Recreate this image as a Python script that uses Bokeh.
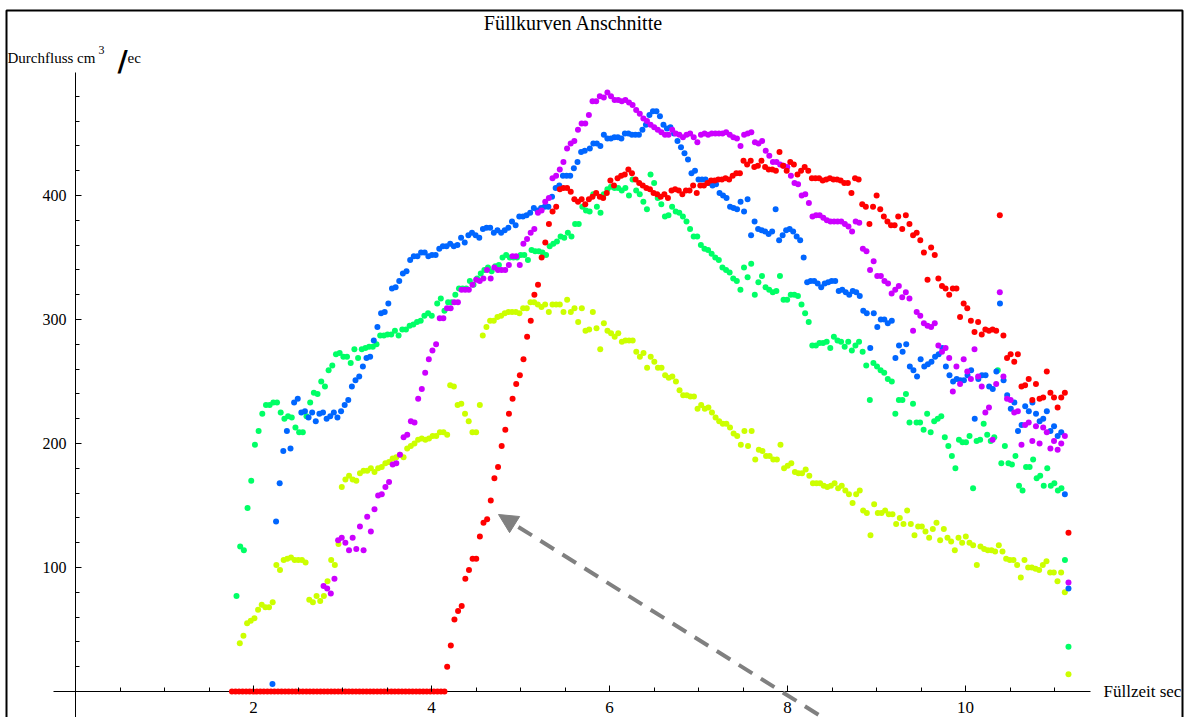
import numpy as np
from bokeh.plotting import figure
from bokeh.models import (ColumnDataSource, LinearAxis, FixedTicker, Range1d, Label,
                          Arrow, NormalHead, BoxAnnotation)
from bokeh.embed import file_html
from bokeh.resources import INLINE

# ---------------- data ----------------
# each series: list of time segments (start, end) in sec, and the flow values sampled in them
red_segments = [(1.758, 4.146), (4.176, 5.891), (5.929, 9.244), (9.289, 11.157)]
red_values = [
    [0, 0, 0, 0, 0, 0, 0, 0, 0, 0, 0, 0, 0, 0, 0, 0, 0, 0, 0, 0,
     0, 0, 0, 0, 0, 0, 0, 0, 0, 0, 0, 0, 0, 0, 0, 0, 0, 0, 0, 0,
     0, 0, 0, 0, 0, 0, 0, 0, 0, 0, 0, 0, 0, 0, 0, 0, 0, 0, 0, 0, 0],
    [20, 37, 58, 65, 69, 91, 98, 107, 107, 125, 136, 139, 154, 172, 181, 198, 211, 224, 236, 248,
     255, 268, 286, 299, 320, 328, 350, 362, 377, 387, 391, 405, 406, 406, 403, 397, 395, 397, 393, 397,
     399, 402, 399],
    [398, 402, 412, 408, 414, 416, 417, 421, 418, 413, 410, 408, 406, 405, 402, 401, 399, 401, 398, 404,
     405, 404, 401, 404, 404, 408, 402, 408, 408, 410, 412, 412, 413, 413, 414, 413, 416, 418, 418, 428,
     425, 428, 423, 424, 428, 423, 421, 421, 420, 435, 424, 420, 427, 425, 417, 420, 423, 420, 414, 414,
     414, 412, 413, 414, 413, 413, 412, 410, 410, 402, 414, 413, 393, 391, 377, 391, 400, 389, 383, 379,
     376, 376, 383],
    [373, 384, 377, 368, 370, 364, 354, 332, 358, 352, 333, 327, 325, 320, 325, 325, 302, 313, 309, 299,
     290, 298, 288, 292, 291, 292, 291, 384, 287, 269, 272, 266, 272, 246, 247, 252, 235, 248, 236, 237,
     258, 241, 237, 229, 237, 241, 128],
]

green_segments = [(1.809, 4.003), (4.064, 5.899), (5.936, 9.127), (9.172, 11.157)]
green_values = [
    [77, 117, 114, 148, 170, 199, 210, 224, 231, 231, 233, 233, 225, 220, 222, 221, 213, 209, 209, 222,
     233, 241, 240, 250, 246, 259, 263, 272, 273, 270, 270, 265, 276, 269, 276, 277, 278, 278, 280, 287,
     287, 288, 288, 291, 287, 292, 292, 295, 296, 298, 299, 303, 305, 303],
    [313, 317, 307, 314, 314, 320, 325, 325, 325, 331, 328, 333, 337, 340, 342, 339, 343, 344, 350, 352,
     350, 350, 350, 352, 352, 348, 356, 355, 355, 354, 352, 359, 361, 363, 367, 366, 370, 367, 377, 377,
     391, 388, 387, 401, 391, 386],
    [401, 405, 407, 406, 406, 404, 406, 400, 413, 404, 401, 395, 389, 417, 410, 398, 393, 383, 384, 391,
     387, 386, 383, 379, 373, 367, 367, 360, 357, 356, 353, 350, 348, 342, 340, 338, 333, 331, 324, 342,
     334, 345, 320, 330, 335, 326, 324, 322, 323, 335, 316, 316, 320, 320, 319, 312, 305, 298, 279, 279,
     281, 281, 282, 277, 286, 283, 282, 278, 282, 275, 279, 282, 274, 263, 235, 265, 262, 259, 257, 252],
    [250, 224, 235, 235, 240, 217, 232, 217, 217, 211, 224, 209, 218, 220, 222, 205, 198, 190, 180, 203,
     201, 201, 206, 164, 202, 203, 216, 207, 202, 205, 259, 184, 198, 184, 183, 190, 166, 162, 181, 181,
     187, 172, 174, 166, 180, 166, 168, 162, 164, 106, 36],
]

blue_segments = [(2.213, 3.146), (3.188, 5.722), (5.779, 9.127), (9.172, 11.157)]
blue_values = [
    [6, 137, 168, 194, 210, 196, 233, 236, 225, 226, 221, 225, 218, 224, 225, 220, 222, 225, 221, 226,
     231, 235, 246, 251],
    [254, 262, 269, 270, 283, 294, 305, 306, 313, 325, 326, 331, 337, 339, 348, 351, 351, 354, 354, 351,
     352, 352, 357, 359, 359, 361, 359, 360, 366, 362, 368, 370, 368, 366, 373, 374, 374, 370, 372, 370,
     372, 374, 379, 376, 383, 383, 384, 386, 390, 388, 390, 391, 391, 399, 406, 408, 416, 416, 416, 422,
     427, 435, 436],
    [438, 442, 442, 440, 449, 446, 446, 447, 447, 446, 450, 450, 449, 449, 449, 453, 457, 465, 468, 468,
     464, 457, 454, 455, 450, 444, 439, 434, 429, 418, 420, 413, 413, 413, 410, 408, 409, 402, 400, 398,
     391, 390, 389, 395, 387, 397, 368, 379, 373, 372, 371, 369, 371, 389, 364, 368, 372, 373, 371, 367,
     364, 350, 330, 331, 331, 329, 326, 329, 330, 331, 331, 323, 324, 322, 320, 323, 322, 319, 307, 305,
     277, 305, 294, 300, 300, 297],
    [299, 269, 279, 274, 280, 262, 259, 254, 268, 262, 264, 266, 270, 272, 277, 262, 255, 250, 252, 251,
     251, 255, 259, 220, 252, 255, 255, 246, 244, 258, 313, 251, 239, 228, 233, 210, 215, 230, 226, 233,
     224, 218, 220, 226, 210, 214, 206, 209, 159, 83],
]

purple_segments = [(2.787, 3.891), (3.929, 5.891), (5.936, 9.251), (9.289, 11.157)]
purple_values = [
    [85, 83, 79, 91, 122, 124, 120, 114, 124, 115, 133, 114, 141, 129, 147, 158, 159, 165, 169, 183,
     184, 191, 205, 207, 218, 217, 236, 244],
    [257, 268, 275, 280, 301, 301, 309, 309, 314, 314, 324, 324, 324, 328, 332, 331, 333, 340, 333, 342,
     340, 340, 340, 344, 351, 351, 344, 361, 365, 370, 373, 386, 388, 395, 398, 414, 416, 421, 427, 438,
     442, 444, 453, 458, 458, 465, 476, 476, 480],
    [479, 483, 480, 477, 477, 476, 477, 475, 473, 469, 466, 462, 460, 457, 455, 453, 451, 449, 449, 453,
     450, 449, 447, 449, 450, 447, 443, 449, 450, 449, 450, 450, 450, 450, 451, 449, 447, 446, 440, 449,
     450, 451, 443, 442, 444, 436, 432, 427, 427, 425, 424, 423, 416, 410, 409, 400, 401, 394, 383, 384,
     384, 382, 380, 379, 379, 379, 379, 377, 375, 371, 379, 378, 357, 355, 340, 347, 335, 335, 331, 329,
     321, 324, 327],
    [318, 322, 317, 291, 306, 303, 297, 295, 294, 297, 279, 274, 277, 269, 242, 262, 248, 268, 258, 252,
     276, 254, 246, 225, 229, 203, 248, 322, 254, 236, 235, 225, 226, 199, 215, 217, 202, 214, 200, 213,
     209, 196, 202, 195, 200, 206, 88],
]

yellow_segments = [(1.846, 2.955), (2.992, 4.176), (4.210, 4.543), (4.576, 5.854), (5.896, 8.812), (8.850, 11.157)]
yellow_values = [
    [39, 45, 55, 57, 59, 66, 70, 68, 68, 72, 102, 98, 106, 107, 108, 106, 106, 106, 104, 74,
     72, 77, 73, 77, 89, 106, 102, 119],
    [165, 171, 174, 171, 170, 176, 178, 178, 180, 177, 180, 181, 184, 185, 188, 189, 191, 189, 196, 198,
     200, 203, 204, 203, 204, 206, 206, 209, 209, 207],
    [247, 246, 231, 232, 224, 218, 209, 209, 231],
    [287, 294, 299, 299, 302, 303, 305, 306, 306, 306, 305, 309, 309, 314, 314, 312, 310, 312, 306, 312,
     312, 312, 306, 316, 306, 309, 298, 309, 291, 292, 306, 293],
    [276, 297, 291, 289, 286, 289, 282, 283, 283, 283, 274, 270, 273, 261, 270, 266, 261, 261, 255, 253,
     254, 250, 243, 239, 239, 238, 238, 228, 231, 228, 229, 225, 221, 218, 216, 216, 213, 208, 206, 199,
     210, 198, 210, 187, 195, 194, 190, 190, 187, 187, 199, 180, 182, 184, 177, 176, 176, 179, 174, 168,
     168, 168, 166, 165, 166, 168, 164, 166, 162, 159, 152, 159, 162],
    [146, 144, 126, 151, 144, 144, 146, 143, 143, 135, 140, 135, 146, 135, 126, 133, 133, 129, 124, 131,
     136, 122, 131, 124, 121, 114, 124, 120, 125, 120, 118, 102, 117, 115, 114, 114, 113, 118, 113, 107,
     106, 106, 102, 92, 106, 100, 100, 99, 98, 102, 105, 96, 96, 89, 96, 80, 14],
]

x_major_ticks = [2, 4, 6, 8, 10]
x_minor_ticks = [0.5, 1.0, 1.5, 2.0, 2.5, 3.0, 3.5, 4.0, 4.5, 5.0, 5.5, 6.0, 6.5, 7.0, 7.5, 8.0,
                 8.5, 9.0, 9.5, 10.0, 10.5, 11.0]
y_major_ticks = [100, 200, 300, 400]
y_minor_ticks = [20, 40, 60, 80, 100, 120, 140, 160, 180, 200, 220, 240, 260, 280, 300, 320,
                 340, 360, 380, 400, 420, 440, 460, 480]

title_text = "Füllkurven Anschnitte"
x_label = "Füllzeit sec"

# ---------------- layout helpers (pixel geometry of the picture) ----------------
W, H = 1184, 717
X0_PX, PX_PER_X = 75.0, 89.0
Y0_PX, PX_PER_Y = 691.0, 1.24


def X(px):
    return (px - X0_PX) / PX_PER_X


def Y(py):
    return (Y0_PX - py) / PX_PER_Y


SERIF = "Liberation Serif"

# the frame covers the whole canvas; axes sit at the origin inside it
p = figure(width=W, height=H,
           x_range=Range1d(X(0), X(W)), y_range=Range1d(Y(H), Y(0)),
           x_axis_type=None, y_axis_type=None,
           toolbar_location=None, output_backend="svg",
           min_border=0, min_border_left=0, min_border_bottom=0,
           min_border_right=0, min_border_top=0,
           outline_line_color=None, background_fill_color="white", border_fill_color="white")

# x axis: fixed on y=0, ticks pointing up, labels pulled below the line
xaxis = LinearAxis(fixed_location=0,
                   ticker=FixedTicker(ticks=x_major_ticks, minor_ticks=x_minor_ticks))
xaxis.axis_line_color = None
xaxis.major_tick_out = 6
xaxis.major_tick_in = 0
xaxis.minor_tick_out = 4
xaxis.minor_tick_in = 0
xaxis.major_tick_line_color = "black"
xaxis.minor_tick_line_color = "black"
xaxis.major_label_standoff = -27
xaxis.major_label_text_font = SERIF
xaxis.major_label_text_font_size = "17px"
xaxis.major_label_text_color = "black"
p.add_layout(xaxis, "above")

# y axis: fixed on x=0, ticks pointing right, labels pulled left of the line
yaxis = LinearAxis(fixed_location=0,
                   ticker=FixedTicker(ticks=y_major_ticks, minor_ticks=y_minor_ticks))
yaxis.axis_line_color = None
yaxis.major_tick_out = 6
yaxis.major_tick_in = 0
yaxis.minor_tick_out = 4
yaxis.minor_tick_in = 0
yaxis.major_tick_line_color = "black"
yaxis.minor_tick_line_color = "black"
yaxis.major_label_standoff = -39
yaxis.major_label_text_font = SERIF
yaxis.major_label_text_font_size = "16px"
yaxis.major_label_text_color = "black"
p.add_layout(yaxis, "right")

# axis lines (extend past the origin like the original)
p.segment(x0=[X(53)], y0=[0], x1=[X(1090)], y1=[0], line_color="black", line_width=1)
p.segment(x0=[0], y0=[Y(740)], x1=[0], y1=[Y(72)], line_color="black", line_width=1)

# ---------------- the five series ----------------
series = [
    ("yellow", "#CCFF00", yellow_segments, yellow_values),
    ("green", "#00FF66", green_segments, green_values),
    ("blue", "#0066FF", blue_segments, blue_values),
    ("purple", "#CC00FF", purple_segments, purple_values),
    ("red", "#FF0000", red_segments, red_values),
]
for name, color, segs, vals in series:
    xs = np.concatenate([np.linspace(a, b, len(v)) for (a, b), v in zip(segs, vals)])
    ys = np.concatenate([np.asarray(v, dtype=float) for v in vals])
    src = ColumnDataSource(dict(x=xs, y=ys))
    p.scatter("x", "y", source=src, size=6, fill_color=color, line_color=None, marker="circle")

# ---------------- annotations ----------------
p.add_layout(BoxAnnotation(left=X(6), right=X(1182), top=Y(10), bottom=Y(760),
                           fill_color=None, fill_alpha=0, line_color="black", line_alpha=1.0,
                           line_width=2))

p.add_layout(Arrow(end=NormalHead(size=19, fill_color="#808080", line_color="#808080", line_width=1),
                   x_start=X(840), y_start=Y(728), x_end=X(498), y_end=Y(514),
                   line_color="#808080", line_width=4, line_dash="16 10"))

p.add_layout(Label(x=X(573), y=Y(22), text=title_text, text_align="center", text_baseline="middle",
                   text_font=SERIF, text_font_size="20px", text_color="black"))
p.add_layout(Label(x=X(7), y=Y(57), text="Durchfluss cm", text_align="left", text_baseline="alphabetic",
                   text_font=SERIF, text_font_size="15px", text_color="black"))
p.add_layout(Label(x=X(98), y=Y(49), text="3", text_align="left", text_baseline="alphabetic",
                   text_font=SERIF, text_font_size="12px", text_color="black"))
p.add_layout(Label(x=X(117), y=Y(61), text="/", text_align="left", text_baseline="alphabetic",
                   text_font="DejaVu Sans", text_font_style="bold", text_font_size="28px",
                   text_color="black"))
p.add_layout(Label(x=X(127), y=Y(57), text="ec", text_align="left", text_baseline="alphabetic",
                   text_font=SERIF, text_font_size="15px", text_color="black"))
p.add_layout(Label(x=X(1103), y=Y(691), text=x_label, text_align="left", text_baseline="middle",
                   text_font=SERIF, text_font_size="17px", text_color="black"))

with open("out.html", "w", encoding="utf-8") as f:
    f.write(file_html(p, INLINE))
